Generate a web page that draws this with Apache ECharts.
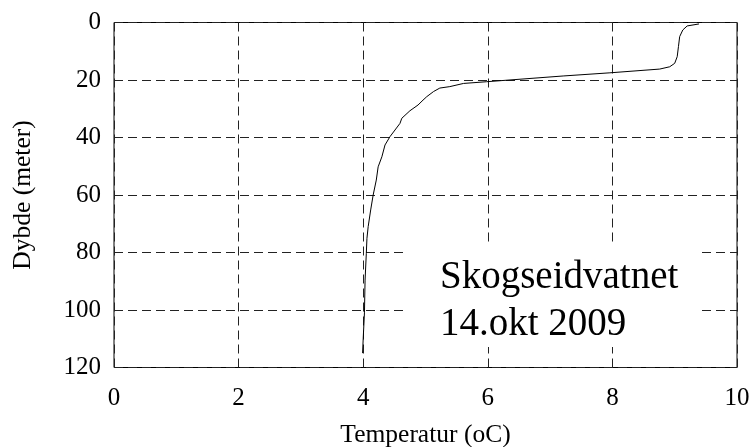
<!DOCTYPE html>
<html>
<head>
<meta charset="utf-8">
<script src="https://cdn.jsdelivr.net/npm/echarts@6/dist/echarts.min.js"></script>
<style>html,body{margin:0;padding:0;background:#fff}#c{width:750px;height:447px}</style>
</head>
<body>
<div id="c"></div>
<script>
var temperature = [9.39, 9.20, 9.13, 9.08, 9.06, 9.04, 9.00, 8.92, 8.76, 7.96, 7.21, 5.98, 5.61, 5.39, 5.23, 5.13, 5.02, 4.96, 4.88, 4.75, 4.62, 4.59, 4.43, 4.35, 4.30, 4.24, 4.21, 4.16, 4.12, 4.08, 4.06, 4.05, 4.03, 4.02, 4.00, 3.99];
var depth = [0.5, 1.2, 2.6, 4.9, 8.4, 11.9, 14.2, 15.4, 16.2, 17.5, 18.6, 20.6, 21.2, 22.3, 22.8, 24.0, 25.8, 27.0, 28.7, 30.7, 33.3, 35.1, 39.7, 42.6, 46.7, 50.2, 54.8, 60.0, 65.2, 71.0, 75.1, 80.3, 89.6, 101.0, 110.0, 115.0];
var xTicks = [0, 2, 4, 6, 8, 10];
var yTicks = [0, 20, 40, 60, 80, 100, 120];
var xName = 'Temperatur (oC)';
var yName = 'Dybde (meter)';
var noteLines = ['Skogseidvatnet', '14.okt 2009'];

var chart = echarts.init(document.getElementById('c'), null, {renderer: 'canvas'});
var font = '"Liberation Serif", "Times New Roman", serif';
var pts = temperature.map(function (t, i) { return [t, depth[i]]; });
var dashed = {show: true, lineStyle: {color: '#222', type: [9, 5], width: 1}};
chart.setOption({
  animation: false,
  backgroundColor: '#fff',
  grid: {left: 114, right: 13, top: 22.5, bottom: 79.5, containLabel: false, outerBoundsMode: 'none', show: true, borderColor: '#000', borderWidth: 1, backgroundColor: 'transparent'},
  xAxis: {
    type: 'value', min: xTicks[0], max: xTicks[xTicks.length - 1], interval: 2,
    axisLine: {show: false}, axisTick: {show: false},
    axisLabel: {fontFamily: font, fontSize: 25, color: '#000', margin: 18},
    splitLine: dashed,
    name: xName, nameLocation: 'middle', nameGap: 55,
    nameTextStyle: {fontFamily: font, fontSize: 25.5, color: '#000'}
  },
  yAxis: {
    type: 'value', inverse: true, min: yTicks[0], max: yTicks[yTicks.length - 1], interval: 20,
    axisLine: {show: false}, axisTick: {show: false},
    axisLabel: {fontFamily: font, fontSize: 25, color: '#000', margin: 13},
    splitLine: dashed,
    name: yName, nameLocation: 'middle', nameGap: 78, nameRotate: 90,
    nameTextStyle: {fontFamily: font, fontSize: 25.5, color: '#000'}
  },
  series: [{
    type: 'line', data: pts, showSymbol: false, symbol: 'none', smooth: false,
    lineStyle: {color: '#000', width: 1}, z: 5
  }],
  graphic: [
    {type: 'rect', left: 408, top: 245, shape: {width: 290, height: 102}, style: {fill: '#fff'}, z: 50},
    {type: 'text', left: 440, top: 254, z: 51, style: {text: noteLines.join('\n'), font: '39px ' + font, fill: '#000', lineHeight: 47}}
  ]
});
</script>
</body>
</html>
